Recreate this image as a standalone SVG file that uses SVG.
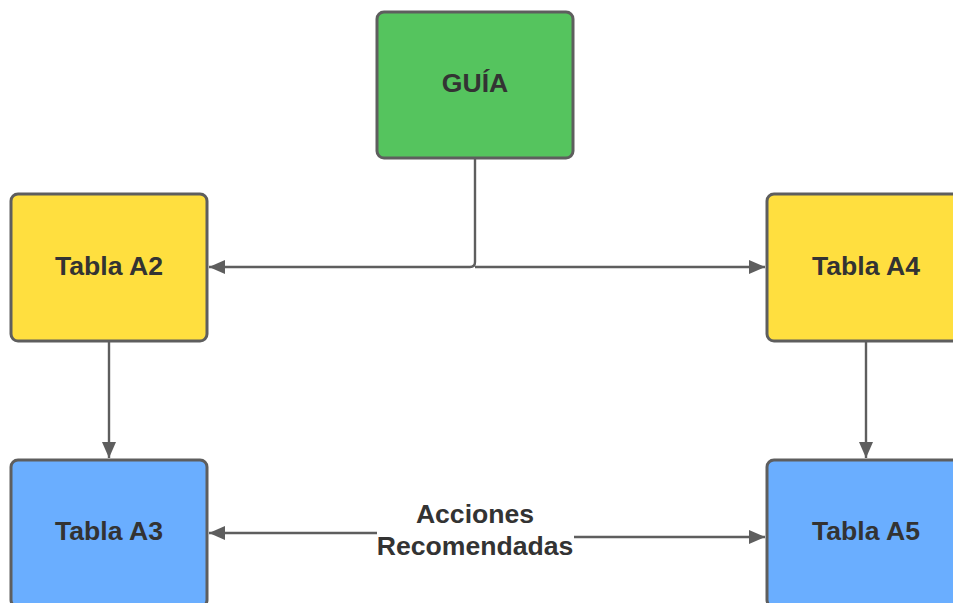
<svg xmlns="http://www.w3.org/2000/svg" width="953" height="603" viewBox="0 0 953 603">
<style>
.box{stroke:#5e5e5e;stroke-width:3}
.lbl{font-family:"Liberation Sans",Arial,sans-serif;font-weight:bold;font-size:26.6px;fill:#333333;text-anchor:middle}
.edge{fill:none;stroke:#5e5e5e;stroke-width:2.4}
</style>
<defs>
<marker id="ah" markerUnits="userSpaceOnUse" markerWidth="16" markerHeight="14" refX="16" refY="7" orient="auto">
<path d="M0,0 L16,7 L0,14 Z" fill="#5e5e5e"/>
</marker>
</defs>
<rect width="953" height="603" fill="#ffffff"/>
<g id="connectors">
<path class="edge" d="M475,158 V262 Q475,267 470,267 H209" marker-end="url(#ah)"/>
<path class="edge" d="M475,267 H765" marker-end="url(#ah)"/>
<path class="edge" d="M109,341 V458" marker-end="url(#ah)"/>
<path class="edge" d="M866,341 V458" marker-end="url(#ah)"/>
<path class="edge" d="M377,533 L209,533" marker-end="url(#ah)"/>
<path class="edge" d="M574,537 L765,537" marker-end="url(#ah)"/>
<text class="lbl" x="475" y="523">Acciones</text>
<text class="lbl" x="475" y="555">Recomendadas</text>
</g>
<g id="guia">
<rect class="box" x="377" y="12" width="196" height="146" rx="7" fill="#55c45e"/>
<text class="lbl" x="475" y="92">GUÍA</text>
</g>
<g id="tabla-a2">
<rect class="box" x="11" y="194" width="196" height="147" rx="7" fill="#ffdf3f"/>
<text class="lbl" x="109" y="275">Tabla A2</text>
</g>
<g id="tabla-a4">
<rect class="box" x="767" y="194" width="196" height="147" rx="7" fill="#ffdf3f"/>
<text class="lbl" x="866" y="275">Tabla A4</text>
</g>
<g id="tabla-a3">
<rect class="box" x="11" y="460" width="196" height="147" rx="7" fill="#6aaeff"/>
<text class="lbl" x="109" y="540">Tabla A3</text>
</g>
<g id="tabla-a5">
<rect class="box" x="767" y="460" width="196" height="147" rx="7" fill="#6aaeff"/>
<text class="lbl" x="866" y="540">Tabla A5</text>
</g>
</svg>
